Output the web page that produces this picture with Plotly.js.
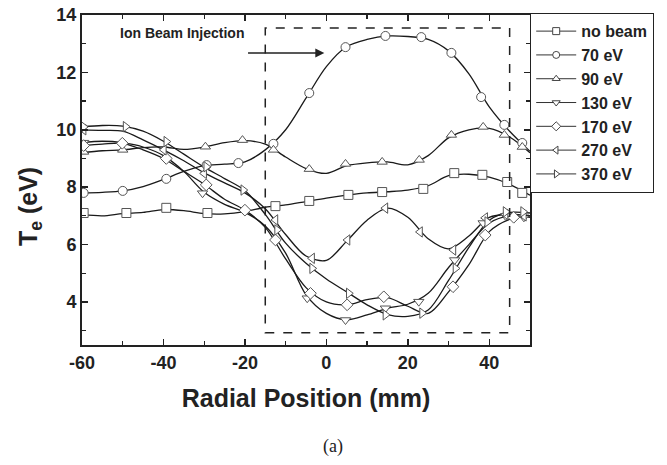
<!DOCTYPE html>
<html>
<head>
<meta charset="utf-8">
<script src="https://cdn.plot.ly/plotly-3.0.1.min.js"></script>
<style>html,body{margin:0;padding:0;background:#fff;}#chart{width:667px;height:465px;}</style>
</head>
<body>
<div id="chart"></div>
<script>
// Shared grid for the measured (smoothed) curves, radial position in mm
const xGrid = [-60,-55,-50,-45,-40,-35,-30,-25,-20,-15,-10,-5,0,5,10,15,20,25,30,35,40,45,50];

// Series names
const seriesNames = ['no beam','70 eV','90 eV','130 eV','170 eV','270 eV','370 eV'];

// Tick labels
const xTickVals = [-60,-40,-20,0,20,40];
const xTickText = ['-60','-40','-20','0','20','40'];
const yTickVals = [4,6,8,10,12,14];
const yTickText = ['4','6','8','10','12','14'];

// Curve values (Te in eV) on xGrid
const lineNoBeam = [7.05,7.0,7.08,7.12,7.22,7.18,7.08,7.07,7.15,7.3,7.38,7.5,7.62,7.72,7.8,7.84,7.9,8.05,8.4,8.45,8.35,8.1,7.72];
const line70 = [7.8,7.82,7.87,8.02,8.27,8.55,8.75,8.8,8.88,9.3,10.0,11.1,12.2,12.9,13.15,13.27,13.25,13.15,12.75,11.95,10.8,9.95,9.25];
const line90 = [9.2,9.27,9.3,9.38,9.4,9.32,9.4,9.55,9.62,9.5,9.05,8.65,8.48,8.75,8.85,8.88,8.78,9.1,9.72,10.0,10.05,9.75,9.2];
const line130 = [9.55,9.6,9.55,9.4,9.1,8.55,7.82,7.4,7.12,6.65,5.7,4.25,3.6,3.38,3.55,3.78,3.92,4.3,5.2,6.0,6.75,7.0,6.95];
const line170 = [9.45,9.5,9.53,9.3,9.0,8.55,8.1,7.58,7.2,6.6,5.5,4.5,4.0,3.9,4.08,4.15,3.85,3.6,4.35,5.3,6.45,6.88,7.0];
const line270 = [10.0,9.98,9.95,9.65,9.3,8.92,8.5,8.15,7.8,7.25,6.35,5.6,5.45,6.12,6.85,7.27,6.95,6.2,5.85,6.3,6.95,7.05,7.0];
const line370 = [10.1,10.15,10.13,9.95,9.6,9.15,8.7,8.3,7.88,7.05,6.05,5.35,4.8,4.35,3.9,3.56,3.5,3.72,4.75,5.9,6.85,7.12,7.1];

// Marker positions (mm) and values (eV)
const mkNoBeamX = [-59.6,-49.1,-39.3,-29.2,-12.5,-4.2,5.4,13.7,23.8,31.4,38.3,44.4,48.1];
const mkNoBeamY = [7.10,7.10,7.28,7.10,7.34,7.52,7.73,7.83,7.94,8.49,8.43,8.18,7.80];
const mk70X = [-59.6,-50,-39.3,-29.4,-21.6,-13,-4.2,4.7,14.5,23.3,30.7,38,43.7,48.1];
const mk70Y = [7.80,7.87,8.29,8.77,8.84,9.51,11.28,12.88,13.27,13.23,12.68,11.14,10.17,9.54];
const mk90X = [-59.6,-50,-29.7,-20.6,-13,-4.2,4.7,13.7,22.8,30.7,38.5,43.7,48.1];
const mk90Y = [9.23,9.30,9.41,9.64,9.30,8.63,8.81,8.88,8.95,9.82,10.10,9.82,9.40];
const mk130X = [-59.6,-30.4,-4.7,4.7,14.5,22.7,31.5,38.5,44,48.5];
const mk130Y = [9.55,7.79,4.13,3.37,3.78,4.01,5.46,6.75,7.0,6.95];
const mk170X = [-59.6,-50.1,-39.3,-29.5,-20,-12.5,-3.9,5.1,14.1,31.1,39,46];
const mk170Y = [9.45,9.53,9.0,8.08,7.2,6.16,4.30,3.90,4.18,4.53,6.33,6.95];
const mk270X = [-59.6,-39.9,-30,-12.5,-3.5,5.2,14.5,23,31.2,39,44,48.5];
const mk270Y = [10.0,9.30,8.48,6.86,5.52,6.16,7.27,6.44,5.81,6.93,7.05,7.0];
const mk370X = [-59.6,-49.3,-39.3,-29.5,-20.4,-12.1,-3.5,5.5,14.5,23.5,31.7,39.5,44,48.3];
const mk370Y = [10.1,10.11,9.59,8.71,7.9,6.51,5.17,4.30,3.55,3.61,5.17,6.79,7.14,7.14];

// Annotation / highlighted region values
const injectionLabel = 'Ion Beam Injection';
const arrowFrom = [-19.6, 12.68];
const arrowTo = [-0.5, 12.68];
const boxX = [-15, 45];
const boxY = [2.93, 13.55];

const lines = [lineNoBeam,line70,line90,line130,line170,line270,line370];
const mkX = [mkNoBeamX,mk70X,mk90X,mk130X,mk170X,mk270X,mk370X];
const mkY = [mkNoBeamY,mk70Y,mk90Y,mk130Y,mk170Y,mk270Y,mk370Y];
const symbols = ['square','circle','triangle-up','triangle-down','diamond','triangle-left','triangle-right'];

const FONT = 'Liberation Sans, Arial, Helvetica, sans-serif';
const traces = [];
lines.forEach((ys, i) => {
  traces.push({x: xGrid, y: ys, type: 'scatter', mode: 'lines', showlegend: false, hoverinfo: 'skip',
    line: {color: '#1a1a1a', width: 1.3, shape: 'spline', smoothing: 0.9}});
});
mkX.forEach((xs, i) => {
  traces.push({x: xs, y: mkY[i], type: 'scatter', mode: 'markers', showlegend: false,
    marker: {symbol: symbols[i], size: 9, color: '#ffffff', line: {color: '#555', width: 1}}});
});
// legend entries (line + symbol)
seriesNames.forEach((nm, i) => {
  traces.push({x: [null], y: [null], type: 'scatter', mode: 'lines+markers', name: nm,
    line: {color: '#333', width: 1}, marker: {symbol: symbols[i], size: 7, color: '#fff', line: {color: '#444', width: 1}}});
});

const axisCommon = {
  showline: true, linewidth: 2, linecolor: '#222', mirror: 'ticks',
  ticks: 'inside', ticklen: 6, tickwidth: 1.5, tickcolor: '#222',
  showgrid: false, zeroline: false,
  tickfont: {family: FONT, size: 18, color: '#222', weight: 'bold'}
};

const layout = {
  width: 667, height: 465,
  margin: {l: 82, r: 137, t: 15, b: 120, pad: 0},
  paper_bgcolor: '#fff', plot_bgcolor: '#fff',
  showlegend: true,
  xaxis: Object.assign({}, axisCommon, {
    range: [-60, 50], tickmode: 'array', tickvals: xTickVals, ticktext: xTickText,
    minor: {dtick: 10, tick0: 0, ticks: 'inside', ticklen: 4, tickwidth: 1.2, tickcolor: '#222', showgrid: false},
    title: {text: 'Radial Position (mm)', font: {family: FONT, size: 25, color: '#222', weight: 'bold'}, standoff: 18}
  }),
  yaxis: Object.assign({}, axisCommon, {
    range: [2.5, 14], tickmode: 'array', tickvals: yTickVals, ticktext: yTickText,
    minor: {dtick: 1, tick0: 0, ticks: 'inside', ticklen: 4, tickwidth: 1.2, tickcolor: '#222', showgrid: false}
  }),
  legend: {x: 1, xanchor: 'left', y: 1.006, yanchor: 'top', bgcolor: '#fff',
    bordercolor: '#222', borderwidth: 1.2, itemwidth: 40,
    font: {family: FONT, size: 16, color: '#222', weight: 'bold'}},
  shapes: [{type: 'rect', xref: 'x', yref: 'y', x0: boxX[0], x1: boxX[1], y0: boxY[0], y1: boxY[1],
    line: {color: '#222', width: 1.5, dash: 'dash'}}],
  annotations: [
    {xref: 'paper', yref: 'paper', x: 0, y: 0.5, xanchor: 'center', yanchor: 'middle', xshift: -52, yshift: -27,
      textangle: -90, text: 'T<sub>e</sub> (eV)', showarrow: false,
      font: {family: FONT, size: 25, color: '#222', weight: 'bold'}},
    {xref: 'x', yref: 'y', x: -35.5, y: 13.37, text: injectionLabel, showarrow: false,
      font: {family: FONT, size: 14, color: '#222', weight: 'bold'}},
    {xref: 'x', yref: 'y', axref: 'x', ayref: 'y', x: arrowTo[0], y: arrowTo[1], ax: arrowFrom[0], ay: arrowFrom[1],
      text: '', showarrow: true, arrowhead: 2, arrowsize: 1.2, arrowwidth: 1.5, arrowcolor: '#222'},
    {xref: 'paper', yref: 'paper', x: 0.56, y: -0.309, xanchor: 'center', yanchor: 'middle', text: '(a)', showarrow: false,
      font: {family: 'Liberation Serif, Times New Roman, serif', size: 18, color: '#222'}}
  ]
};

Plotly.newPlot('chart', traces, layout, {displayModeBar: false, staticPlot: true});
</script>
</body>
</html>
